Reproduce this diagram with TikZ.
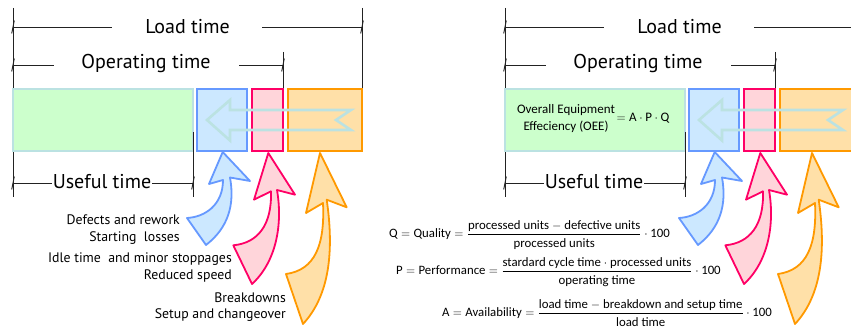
\documentclass[tikz,border=0pt]{standalone}
\usepackage{fontspec}
\usepackage{amsmath}
\setmainfont{PT Sans}
\newfontfamily\formfont{Carlito}
\definecolor{gfill}{HTML}{CCFFCC}
\definecolor{gline}{HTML}{BBE2E2}
\definecolor{bfill}{HTML}{CCE8FF}
\definecolor{bline}{HTML}{6699FF}
\definecolor{pfill}{HTML}{FFD5DA}
\definecolor{pline}{HTML}{FF0066}
\definecolor{ofill}{HTML}{FFE0A8}
\definecolor{oline}{HTML}{FF9900}
\definecolor{dimc}{HTML}{222222}
\tikzset{
  dim/.style={draw=dimc, line width=0.9pt},
  box/.style={rectangle, line width=2pt, inner sep=0pt, minimum height=62pt},
  bigtitle/.style={inner sep=0pt, font=\fontsize{20}{23}\selectfont},
  losstext/.style={inner sep=0pt, anchor=east, font=\fontsize{13.8}{16}\selectfont},
  form/.style={inner sep=0pt, anchor=west, font=\formfont\fontsize{12.8}{15}\selectfont},
  bigarrow/.style={line width=1.8pt, line join=round},
}
\newcommand\tfr[2]{\frac{\mbox{#1}\rule[-4.5pt]{0pt}{1pt}}{\rule{0pt}{12pt}\mbox{#2}}}
\newcommand\tickat[1]{\draw[dim] (#1) ++(-1.3,6.5) -- ++(2.6,-13);}
\newcommand\panel[1]{%
  % dimension coordinates
  \coordinate (#1Ltop) at (13,8);
  \coordinate (#1Lbot) at (13,197);
  \coordinate (#1Rtop) at (362,8);
  \coordinate (#1Rbot) at (362,89);
  \coordinate (#1Otop) at (283,52);
  \coordinate (#1Obot) at (283,89);
  \coordinate (#1Utop) at (193,132);
  \coordinate (#1Ubot) at (193,197);
  \coordinate (#1La) at (13,27);   \coordinate (#1Lb) at (112,27);
  \coordinate (#1Lc) at (262,27);  \coordinate (#1Ld) at (362,27);
  \coordinate (#1Oa) at (13,65);   \coordinate (#1Ob) at (54,65);
  \coordinate (#1Oc) at (239,65);  \coordinate (#1Od) at (283,65);
  \coordinate (#1Ua) at (13,183);  \coordinate (#1Ud) at (193,183);
  \draw[dim] (#1Ltop) -- (#1Lbot);
  \draw[dim] (#1Rtop) -- (#1Rbot);
  \draw[dim] (#1Otop) -- (#1Obot);
  \node[bigtitle] (#1load) at (187.5,27) {Load time};
  \node[bigtitle] (#1oper) at (146,64) {Operating time};
  \node[bigtitle, fill=white, inner xsep=1pt] (#1use) at (102,182) {Useful time};
  \draw[dim] (#1La) -- (#1Lb); \draw[dim] (#1Lc) -- (#1Ld);
  \draw[dim] (#1Oa) -- (#1Ob); \draw[dim] (#1Oc) -- (#1Od);
  \draw[dim] (#1Ua) -- (#1use.west |- #1Ua); \draw[dim] (#1use.east |- #1Ud) -- (#1Ud);
  \tickat{#1La}\tickat{#1Ld}\tickat{#1Oa}\tickat{#1Od}\tickat{#1Ua}\tickat{#1Ud}
  % boxes
  \node[box, fill=gfill, draw=gline, minimum width=180pt] (#1green) at (103,120) {};
  \node[box, fill=bfill, draw=bline, minimum width=50pt] (#1blue) at (222,120) {};
  \node[box, fill=pfill, draw=pline, minimum width=31pt] (#1pink) at (267.5,120) {};
  \node[box, fill=ofill, draw=oline, minimum width=74pt] (#1orange) at (325,120) {};
  \draw[dim] (#1Utop) -- (#1Ubot);
  % inner arrow
  \draw[gline, line width=2.6pt, line join=miter]
    (351,110) -- (230,110) -- (230,100) -- (207,120) -- (230,140.5) -- (230,130)
    -- (351,130) -- (336,120) -- cycle;
  % curved block arrows
  \draw[bigarrow, draw=bline, fill=bfill]
    (222.7,152) -- (250,181) -- (230,177.5)
    .. controls (235,205) and (228,228) .. (206,245) -- (187,218)
    .. controls (205,217) and (223,205) .. (223,180) -- (209,184) -- cycle;
  \draw[bigarrow, draw=pline, fill=pfill]
    (268.3,153) -- (295,194.7) -- (277,190)
    .. controls (283,225) and (276,262) .. (252,284) -- (233.3,245.3)
    .. controls (258,243) and (272,225) .. (271,191.3) -- (254,199.7) -- cycle;
  \draw[bigarrow, draw=oline, fill=ofill]
    (320,153) -- (346.7,207.3) -- (326.7,199.7)
    .. controls (334,250) and (330,295) .. (303,324) -- (286,274)
    .. controls (315,270) and (325,245) .. (323,203) -- (306,213) -- cycle;
}
\begin{document}
\begin{tikzpicture}[x=1pt, y=-1pt]
  \useasboundingbox (0,0) rectangle (851,328);
  \clip (0,0) rectangle (851,328);
  \fill[white] (0,0) rectangle (851,328);
  \panel{l}
  \node[losstext] (d1) at (180,220) {Defects and rework};
  \node[losstext] (d2) at (180,238) {Starting\ \ losses};
  \node[losstext] (s1) at (232,259) {Idle time\ \ and minor stoppages};
  \node[losstext] (s2) at (232,276) {Reduced speed};
  \node[losstext] (b1) at (286,298) {Breakdowns};
  \node[losstext] (b2) at (286,315) {Setup and changeover};
  \begin{scope}[xshift=492pt]
    \panel{r}
  \end{scope}
  \node[align=center, inner sep=0pt, font=\formfont\fontsize{13}{17}\selectfont] (oee) at (566,119)
    {Overall Equipment\\Effeciency (OEE)};
  \node[inner sep=0pt, font=\formfont\fontsize{13}{15}\selectfont] (apq) at (643,118)
    {$=\mbox{A}\cdot\mbox{P}\cdot\mbox{Q}$};
  \node[form] (fq) at (389,235) {$\mbox{Q} = \mbox{Quality} = \tfr{processed units $-$ defective units}{processed units}\cdot\mbox{100}$};
  \node[form] (fp) at (396,272) {$\mbox{P} = \mbox{Performance} = \tfr{stardard cycle time $\cdot$ processed units}{operating time}\cdot\mbox{100}$};
  \node[form] (fa) at (442,313) {$\mbox{A} = \mbox{Availability} = \tfr{load time $-$ breakdown and setup time}{load time}\cdot\mbox{100}$};
\end{tikzpicture}
\end{document}
